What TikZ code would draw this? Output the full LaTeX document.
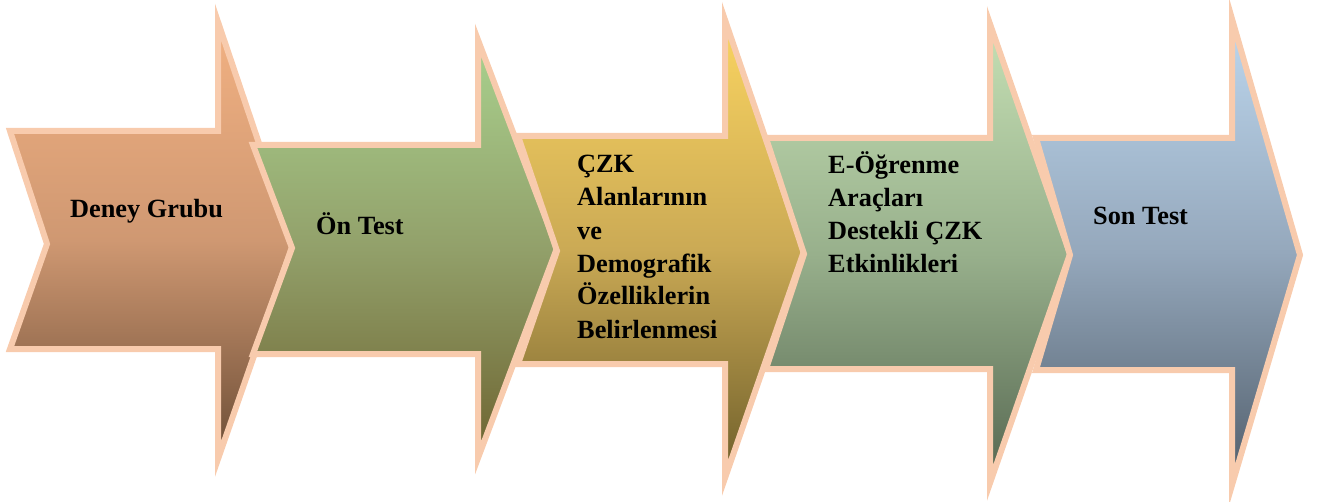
\documentclass[tikz,border=0pt]{standalone}
\usepackage{fontspec}
\setmainfont{Liberation Serif}
\definecolor{rim}{HTML}{F8CBAD}
\definecolor{aT}{HTML}{F2B182}\definecolor{aM}{HTML}{CF9872}\definecolor{aB}{HTML}{6B4C35}
\definecolor{bT}{HTML}{A9D18E}\definecolor{bM}{HTML}{92A06A}\definecolor{bB}{HTML}{6D6330}
\definecolor{cT}{HTML}{FAD460}\definecolor{cM}{HTML}{CBAA55}\definecolor{cB}{HTML}{6E5E2A}
\definecolor{dT}{HTML}{C5E0B4}\definecolor{dM}{HTML}{98B08C}\definecolor{dB}{HTML}{556650}
\definecolor{eT}{HTML}{BDD7EE}\definecolor{eM}{HTML}{95A8BC}\definecolor{eB}{HTML}{505D6A}
\tikzset{
  chev/.style={draw=rim, line width=6pt, line join=miter, miter limit=10},
  lbl/.style={anchor=base west, inner sep=0pt, align=left, font=\fontsize{26.3}{33}\selectfont\bfseries, text=black},
}
% #1 xL, #2 xN, #3 xS, #4 xT, #5 yBT, #6 yBB, #7 yHT, #8 yHB, #9 y of notch and tip
\newcommand{\chevpath}[9]{(#1,#5) -- (#3,#5) -- (#3,#7) -- (#4,#9) -- (#3,#8) -- (#3,#6) -- (#1,#6) -- (#2,#9) -- cycle}
\begin{document}
\begin{tikzpicture}[x=1pt,y=-1pt]
\useasboundingbox (0,0) rectangle (1319,502);
% arrow 1
\path[chev, top color=aT, bottom color=aB, middle color=aM] \chevpath{10}{47}{218}{293}{131}{349}{22}{459}{244};
% arrow 2
\path[chev, top color=bT, bottom color=bB, middle color=bM] \chevpath{253}{292}{478}{557}{145}{354}{40}{458}{248};
% arrow 3
\path[chev, top color=cT, bottom color=cB, middle color=cM] \chevpath{518}{557}{725}{804}{136}{364}{20}{478}{251};
% arrow 4
\path[chev, top color=dT, bottom color=dB, middle color=dM] \chevpath{766}{804}{990}{1070}{138}{369}{24}{483}{254};
% arrow 5
\path[chev, top color=eT, bottom color=eB, middle color=eM] \chevpath{1036}{1070}{1232}{1300}{138}{370}{19}{485}{255};
% labels (multi-line nodes: anchor is the baseline of the last line)
\node[lbl] (t1) at (70,218) {Deney Grubu};
\node[lbl] (t2) at (316,235) {Ön Test};
\node[lbl] (t3) at (577,338) {ÇZK\\Alanlarının\\ve\\Demografik\\Özelliklerin\\Belirlenmesi};
\node[lbl] (t4) at (828,273) {E-Öğrenme\\Araçları\\Destekli ÇZK\\Etkinlikleri};
\node[lbl] (t5) at (1093,225) {Son Test};
\end{tikzpicture}
\end{document}
